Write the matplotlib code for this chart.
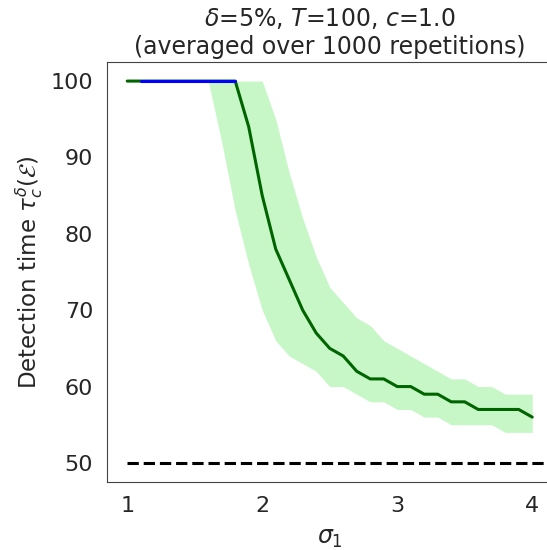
import numpy as np
import matplotlib
matplotlib.use("Agg")
import matplotlib.pyplot as plt
import seaborn as sns

sns.set_style("white")

# sigma_1 grid (step 0.1 from 1.0 to 4.0)
sigma = np.round(np.arange(1.0, 4.01, 0.1), 1)

# median detection time
median = [100, 100, 100, 100, 100, 100, 100, 100, 100, 94,
          85, 78, 74, 70, 67, 65, 64, 62, 61, 61,
          60, 60, 59, 59, 58, 58, 57, 57, 57, 57, 56]
# band (lower / upper quantiles)
lower = [100, 100, 100, 100, 100, 100, 100, 92, 83, 76,
         70, 66, 64, 63, 62, 60, 60, 59, 58, 58,
         57, 57, 56, 56, 55, 55, 55, 55, 54, 54, 54]
upper = [100, 100, 100, 100, 100, 100, 100, 100, 100, 100,
         100, 95, 88, 82, 77, 73, 71, 69, 68, 66,
         65, 64, 63, 62, 61, 61, 60, 60, 59, 59, 59]
# region where detection is marked in blue
blue_start, blue_end = 1.1, 1.8
T = 100
baseline = 50

fig = plt.figure(figsize=(5.47, 5.5), dpi=100)
ax = fig.add_axes([0.1956, 0.1236, 0.8144, 0.7637])

ax.fill_between(sigma, lower, upper, color="lightgreen", alpha=0.5, linewidth=0)
ax.plot(sigma, median, color="darkgreen", lw=2.2)
mask = (sigma >= blue_start) & (sigma <= blue_end)
ax.plot(sigma[mask], np.array(median)[mask], color="blue", lw=2.2)

ax.set_xlim(0.85, 4.15)
ax.set_ylim(47.5, 102.5)
xlo, xhi = ax.get_xlim()
ax.axhline(baseline, xmin=(sigma[0] - xlo) / (xhi - xlo), color="black", ls="--", lw=2.2)

ax.set_xticks([1, 2, 3, 4])
ax.set_yticks([50, 60, 70, 80, 90, 100])
ax.tick_params(labelsize=16, length=0, pad=10, colors="#262626")
ax.set_xlabel(r"$\sigma_1$", fontsize=17, color="#262626", labelpad=7)
ax.set_ylabel(r"Detection time $\tau^{\delta}_{c}(\mathcal{E})$", fontsize=16.5, color="#262626")
ax.set_title(r"$\delta$=5%, $T$=" + str(T) + r", $c$=1.0" + "\n(averaged over 1000 repetitions)",
             fontsize=17, color="#262626")
for s in ax.spines.values():
    s.set_color("#444444")

fig.savefig("out.png", dpi=100)
